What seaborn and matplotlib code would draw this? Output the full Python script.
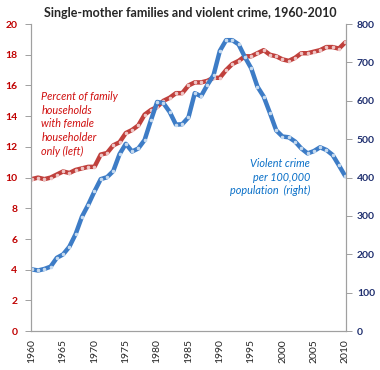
import numpy as np
import pandas as pd
import matplotlib
matplotlib.use("Agg")
import matplotlib.pyplot as plt
import seaborn as sns

years = list(range(1960, 2011))

# percent of family households with female householder only (left axis)
female_pct = [9.9, 10.0, 9.9, 10.0, 10.2, 10.4, 10.3, 10.5, 10.6, 10.7,
              10.7, 11.5, 11.6, 12.1, 12.3, 12.9, 13.1, 13.4, 14.1, 14.4,
              14.6, 15.0, 15.2, 15.5, 15.5, 16.0, 16.2, 16.2, 16.3, 16.5,
              16.5, 17.0, 17.4, 17.6, 17.9, 17.9, 18.1, 18.3, 18.0, 17.9,
              17.7, 17.6, 17.8, 18.1, 18.1, 18.2, 18.3, 18.5, 18.5, 18.4,
              18.8]

# violent crime per 100,000 population (right axis)
crime_rate = [161, 158, 162, 168, 191, 200, 220, 253, 298, 329,
              364, 396, 401, 417, 461, 488, 468, 476, 498, 549,
              597, 594, 571, 538, 539, 557, 620, 612, 641, 667,
              730, 758, 758, 747, 714, 685, 637, 611, 568, 523,
              507, 505, 494, 476, 463, 469, 479, 472, 459, 432,
              404]

df = pd.DataFrame({"year": years, "female": female_pct, "crime": crime_rate})

sns.set_style("white")
plt.rcParams["font.family"] = ["Lato", "DejaVu Sans"]

red = "#c0403c"
blue = "#3d7cc6"

fig = plt.figure(figsize=(3.8, 3.7), dpi=100)
ax = fig.add_axes([0.082, 0.105, 0.828, 0.83])
ax2 = ax.twinx()

sns.lineplot(data=df, x="year", y="female", ax=ax, color=red, linewidth=3.2,
             marker="o", markersize=1.8, markerfacecolor="#f0c8c8",
             markeredgecolor="#f0c8c8")
sns.lineplot(data=df, x="year", y="crime", ax=ax2, color=blue, linewidth=3.2,
             marker="o", markersize=1.8, markerfacecolor="#c8dcf0",
             markeredgecolor="#c8dcf0")

ax.set_xlim(1959.9, 2010.1)
ax.set_ylim(0, 20)
ax2.set_ylim(0, 800)
ax.set_yticks(range(0, 21, 2))
ax2.set_yticks(range(0, 801, 100))
ax.set_xticks(range(1960, 2011, 5))
ax.set_xticks(years, minor=True)
ax.set_xlabel("")
ax.set_ylabel("")
ax2.set_ylabel("")

for a in (ax, ax2):
    for s in a.spines.values():
        s.set_color("#a0a0a0")
        s.set_linewidth(0.8)
    a.spines["top"].set_visible(False)

ax.tick_params(axis="x", which="both", direction="out", length=4, width=0.7,
               color="#a0a0a0", labelrotation=90, labelsize=7.5, pad=2)
ax.tick_params(axis="y", direction="out", length=4, width=0.7, color="#a0a0a0",
               labelcolor="#c00000", labelsize=7.5, pad=6)
ax2.tick_params(axis="y", direction="out", length=4, width=0.7, color="#a0a0a0",
                labelcolor="#1f2f6f", labelsize=7.5, pad=4)
for lbl in ax2.get_yticklabels():
    lbl.set_fontweight("bold")
for lbl in ax.get_yticklabels():
    lbl.set_fontweight("bold")

fig.text(0.5, 0.965, "Single-mother families and violent crime, 1960-2010",
         ha="center", va="center", fontsize=9, fontweight="bold")

ax.text(1961.5, 15.65, "Percent of family\nhouseholds\nwith female\nhouseholder\nonly (left)",
        color="#d01010", fontsize=7.8, style="italic", ha="left", va="top",
        linespacing=1.3)
ax2.text(2004.4, 451, "Violent crime\nper 100,000\npopulation  (right)",
         color="#0a70c8", fontsize=7.8, style="italic", ha="right", va="top",
         linespacing=1.3)

fig.savefig("out.png", dpi=100)
